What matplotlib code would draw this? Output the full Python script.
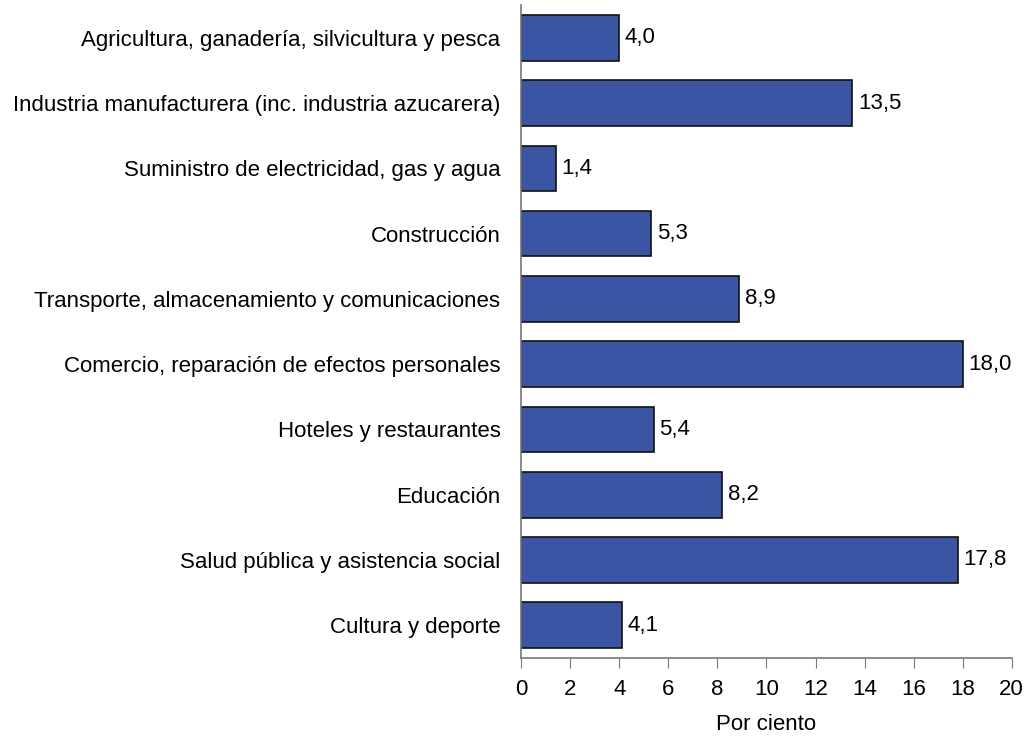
import matplotlib.pyplot as plt

plt.rcParams['font.family'] = ['Liberation Sans', 'DejaVu Sans']

sectores = [
    'Agricultura, ganadería, silvicultura y pesca',
    'Industria manufacturera (inc. industria azucarera)',
    'Suministro de electricidad, gas y agua',
    'Construcción',
    'Transporte, almacenamiento y comunicaciones',
    'Comercio, reparación de efectos personales',
    'Hoteles y restaurantes',
    'Educación',
    'Salud pública y asistencia social',
    'Cultura y deporte',
]
valores = [4.0, 13.5, 1.4, 5.3, 8.9, 18.0, 5.4, 8.2, 17.8, 4.1]
ticks_x = list(range(0, 21, 2))

fs = 16

fig = plt.figure(figsize=(10.24, 7.40), dpi=100)
ax = fig.add_axes([0.509, 0.111, 0.479, 0.882])

pos = list(range(len(sectores)))
ax.barh(pos, valores, height=0.7, color='#3A55A4', edgecolor='#111111', linewidth=1.2)

for y, v in zip(pos, valores):
    ax.annotate(f'{v:.1f}'.replace('.', ','), (v, y), xytext=(4, 0),
                textcoords='offset points', va='center', ha='left', fontsize=fs)

ax.set_ylim(len(sectores) - 0.5, -0.5)
ax.set_xlim(0, 20)
ax.set_yticks(pos)
ax.set_yticklabels(sectores, fontsize=fs)
ax.tick_params(axis='y', length=0, pad=15)
ax.set_xticks(ticks_x)
ax.tick_params(axis='x', labelsize=fs, length=7, color='#777777', pad=8)
ax.set_xlabel('Por ciento', fontsize=fs, labelpad=10)

for s in ['top', 'right']:
    ax.spines[s].set_visible(False)
for s in ['left', 'bottom']:
    ax.spines[s].set_color('#777777')
    ax.spines[s].set_linewidth(1.2)

fig.savefig('out.png', dpi=100)
